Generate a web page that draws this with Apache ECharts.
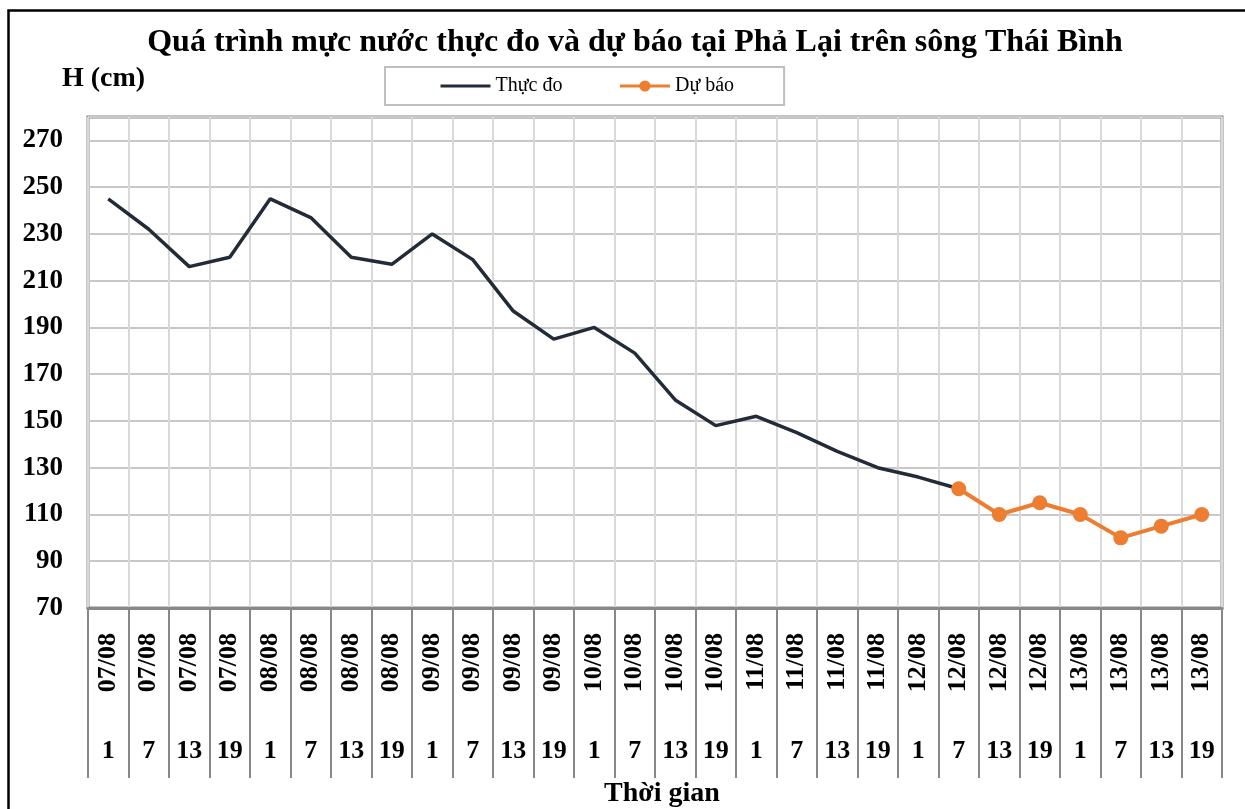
<!DOCTYPE html>
<html><head><meta charset="utf-8">
<script src="https://cdn.jsdelivr.net/npm/echarts@6/dist/echarts.min.js"></script>
<style>html,body{margin:0;padding:0;background:#fff}#c{width:1245px;height:809px}</style>
</head><body><div id="c"></div>
<script>
const dates = ["07/08","07/08","07/08","07/08","08/08","08/08","08/08","08/08","09/08","09/08","09/08","09/08","10/08","10/08","10/08","10/08","11/08","11/08","11/08","11/08","12/08","12/08","12/08","12/08","13/08","13/08","13/08","13/08"];
const hours = ["1","7","13","19","1","7","13","19","1","7","13","19","1","7","13","19","1","7","13","19","1","7","13","19","1","7","13","19"];
const observed = [245,232,216,220,245,237,220,217,230,219,197,185,190,179,159,148,152,145,137,130,126,121,null,null,null,null,null,null];
const forecast = [null,null,null,null,null,null,null,null,null,null,null,null,null,null,null,null,null,null,null,null,null,121,110,115,110,100,105,110];
const cats = dates.map((d,i)=>d+"|"+hours[i]);
const F = '"Liberation Serif","Times New Roman",serif';
const chart = echarts.init(document.getElementById('c'));
chart.setOption({
  animation:false,
  backgroundColor:'#fff',
  title:{text:'Quá trình mực nước thực đo và dự báo tại Phả Lại trên sông Thái Bình',left:630,textAlign:'center',top:22,
    textStyle:{fontFamily:F,fontWeight:'bold',fontSize:32,color:'#000'}},
  graphic:[
    {type:'rect',left:6,top:8,shape:{width:1260,height:820},style:{fill:'none',stroke:'#000',lineWidth:2.5},silent:true,z:-1},
    {type:'text',left:62,top:65,style:{text:'H (cm)',font:'bold 28px '+F,fill:'#000'}},
    {type:'text',left:604,top:780,style:{text:'Thời gian',font:'bold 28px '+F,fill:'#000'}}
  ],
  legend:{left:385,top:67,padding:[9,50,9,54],itemGap:56,itemWidth:50,itemHeight:14,
    backgroundColor:'#fff',borderColor:'#bfbfbf',borderWidth:2,borderRadius:0,
    textStyle:{fontFamily:F,fontSize:20,color:'#000'},
    data:[{name:'Thực đo',itemStyle:{opacity:0},lineStyle:{width:3}},{name:'Dự báo',lineStyle:{width:3}}]},
  grid:{left:88,right:23,top:117,bottom:201,show:true,borderColor:'#888',borderWidth:3,backgroundColor:'#fff'},
  xAxis:[{type:'category',data:cats,boundaryGap:true,position:'bottom',
      axisLine:{show:true,lineStyle:{color:'#888',width:3}},
      axisTick:{show:true,interval:0,length:170,lineStyle:{color:'#888',width:2}},
      splitLine:{show:true,interval:0,lineStyle:{color:'#d9d9d9',width:2}},
      axisLabel:{interval:0,rotate:90,margin:25,formatter:v=>v.split('|')[0],fontFamily:F,fontWeight:'bold',fontSize:26,color:'#000'}},
    {type:'category',data:cats,boundaryGap:true,position:'bottom',
      axisLine:{show:false},axisTick:{show:false},splitLine:{show:false},
      axisLabel:{interval:0,margin:130,formatter:v=>v.split('|')[1],fontFamily:F,fontWeight:'bold',fontSize:26,color:'#000'}}],
  yAxis:{type:'value',min:70,max:280,interval:20,
    axisLine:{show:false},axisTick:{show:false},
    splitLine:{show:true,lineStyle:{color:'#c8c8c8',width:2}},
    axisLabel:{showMaxLabel:false,margin:25,fontFamily:F,fontWeight:'bold',fontSize:27,color:'#000',
      formatter:v=>v===280?'':String(v)}},
  series:[
    {name:'Thực đo',type:'line',data:observed,symbol:'none',lineStyle:{color:'#222b38',width:3.5},itemStyle:{color:'#222b38'},z:3},
    {name:'Dự báo',type:'line',data:forecast,symbol:'circle',symbolSize:15,lineStyle:{color:'#ed7d31',width:4},itemStyle:{color:'#ed7d31'},z:4}
  ]
});
</script></body></html>
